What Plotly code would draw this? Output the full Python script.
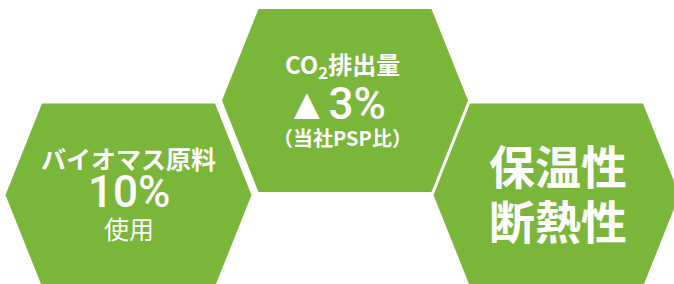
import plotly.graph_objects as go

# Data
features = ["biomass", "co2", "insulation"]
line1 = ["バイオマス原料", "CO<sub>2</sub>排出量", "保温性"]
line2 = ["10%", "▲3%", "断熱性"]
line3 = ["使用", "（当社PSP比）", ""]

GREEN = "#7AB63A"
W, H = 674, 284
centers = [(128.5, 195), (345, 100.5), (556.5, 195)]
half_h = 91.5
flat_half = 86.5
point_half = 123

fig = go.Figure()
for (cx, cy) in centers:
    xs = [cx - flat_half, cx + flat_half, cx + point_half, cx + flat_half, cx - flat_half, cx - point_half, cx - flat_half]
    ys = [cy - half_h, cy - half_h, cy, cy + half_h, cy + half_h, cy, cy - half_h]
    fig.add_trace(go.Scatter(x=xs, y=ys, fill="toself", fillcolor=GREEN, mode="lines",
                             line=dict(width=0, color=GREEN), hoverinfo="skip", showlegend=False))

font_cjk = "Noto Sans CJK JP"
ann = []
# left
cx, cy = centers[0]
ann.append(dict(x=cx, y=158, text="<b>" + line1[0] + "</b>", font=dict(size=25, family=font_cjk, color="white")))
ann.append(dict(x=cx, y=192, text=line2[0], font=dict(size=44, family="Roboto", color="white", weight=500)))
ann.append(dict(x=cx, y=228, text=line3[0], font=dict(size=25, family=font_cjk, color="white")))
# middle
cx, cy = centers[1]
ann.append(dict(x=cx - 3, y=65, text="<b>" + line1[1] + "</b>", font=dict(size=24, family=font_cjk, color="white")))
ann.append(dict(x=cx - 10, y=104, text=line2[1], font=dict(size=44, family="Roboto", color="white", weight=500)))
ann.append(dict(x=cx - 3, y=137, text="<b>" + line3[1] + "</b>", font=dict(size=20, family=font_cjk, color="white")))
# right
cx, cy = centers[2]
ann.append(dict(x=cx + 1, y=164, text="<b>" + line1[2] + "</b>", font=dict(size=46, family=font_cjk, color="white")))
ann.append(dict(x=cx + 1, y=218.5, text="<b>" + line2[2] + "</b>", font=dict(size=46, family=font_cjk, color="white")))

for a in ann:
    a.update(xref="x", yref="y", showarrow=False, xanchor="center", yanchor="middle")

fig.update_layout(
    width=W, height=H, margin=dict(l=0, r=0, t=0, b=0),
    paper_bgcolor="white", plot_bgcolor="white",
    xaxis=dict(range=[0, W], visible=False, fixedrange=True),
    yaxis=dict(range=[H, 0], visible=False, fixedrange=True),
    annotations=ann,
)
fig.write_html("out.html", config={"displayModeBar": False, "staticPlot": True},
               post_script="document.body.style.margin='0';document.body.style.overflow='hidden';")
